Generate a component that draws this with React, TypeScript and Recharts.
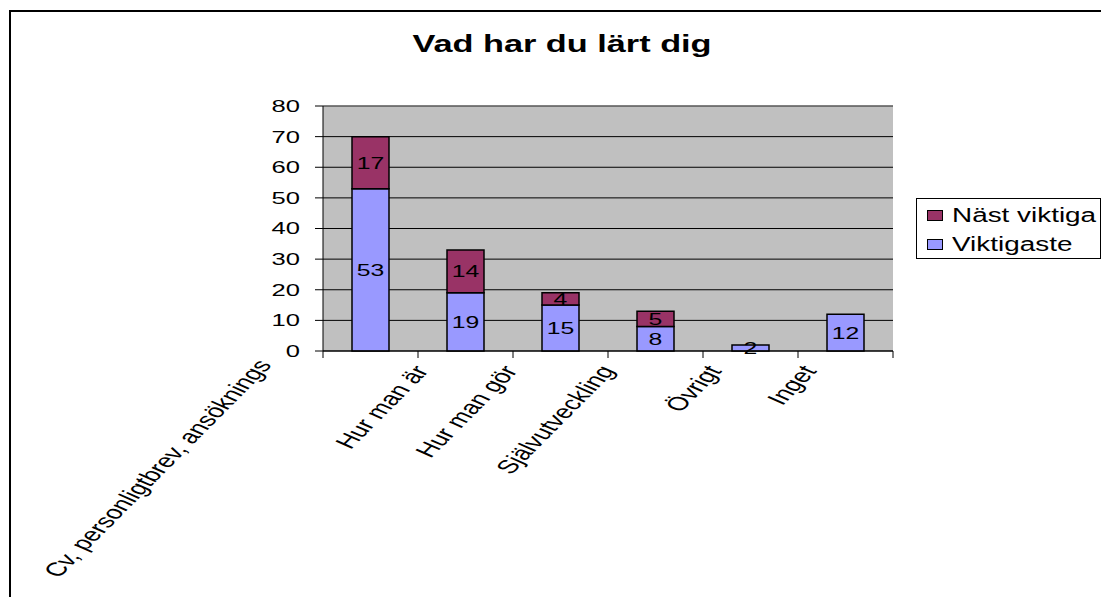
import React from 'react';
import {
  BarChart, Bar, XAxis, YAxis, CartesianGrid, Legend, LabelList, ReferenceLine,
} from 'recharts';

// data
const categories = ['Cv, personligtbrev, ansöknings', 'Hur man är', 'Hur man gör', 'Självutveckling', 'Övrigt', 'Inget'];
const viktigaste = [53, 19, 15, 8, 2, 12];
const nastViktiga = [17, 14, 4, 5, 0, 0];
const yTicks = [0, 10, 20, 30, 40, 50, 60, 70, 80];
const legendOrder = ['Näst viktiga', 'Viktigaste'];

const data = categories.map((name, i) => ({
  name,
  viktigaste: viktigaste[i],
  nastViktiga: nastViktiga[i],
}));

// layout
const W = 1093;
const H = 589;
const MARGIN = { top: 98, right: 208, bottom: 0, left: 255 };
const Y_W = 60;
const PLOT_LEFT = MARGIN.left + Y_W;
const PLOT_BOTTOM = 343;
const BAND = (W - PLOT_LEFT - MARGIN.right) / categories.length;
const FONT = '"Liberation Sans", Arial, sans-serif';
const STRETCH = 1.5; // the picture is squashed wide, text included
// where each rotated label ends, relative to its category centre
const LABEL_DX = [-98, -36, -42, -40, -28, -28];
const LABEL_DY = [14, 20, 20, 20, 20, 20];

const XTick = (props: any) => {
  const { x, payload, index } = props;
  const i = payload?.index ?? index ?? 0;
  const left = x - BAND / 2;
  return (
    <g>
      <line x1={left} y1={PLOT_BOTTOM} x2={left} y2={PLOT_BOTTOM + 7} stroke="#000" />
      {i === categories.length - 1 && (
        <line x1={x + BAND / 2} y1={PLOT_BOTTOM} x2={x + BAND / 2} y2={PLOT_BOTTOM + 7} stroke="#000" />
      )}
      <text
        transform={`translate(${x + LABEL_DX[i]},${PLOT_BOTTOM + LABEL_DY[i]}) scale(${STRETCH},1) rotate(-56.3)`}
        textAnchor="end"
        fontFamily={FONT}
        fontSize={19}
        fill="#000"
      >
        {payload.value}
      </text>
    </g>
  );
};

const YTick = (props: any) => {
  const { x, y, payload } = props;
  return (
    <text
      transform={`translate(${x},${y}) scale(1.55,1)`}
      textAnchor="end"
      dy="0.36em"
      fontFamily={FONT}
      fontSize={16.5}
      fill="#000"
    >
      {payload.value}
    </text>
  );
};

const BarLabel = (props: any) => {
  const { x, y, width, height, value } = props;
  if (!value) return null;
  return (
    <text
      transform={`translate(${x + width / 2},${y + height / 2}) scale(${STRETCH},1)`}
      textAnchor="middle"
      dy="0.36em"
      fontFamily={FONT}
      fontSize={16.5}
      fill="#000"
    >
      {value}
    </text>
  );
};

const LegendBox = (props: any) => {
  const items = [...(props.payload || [])].sort(
    (a: any, b: any) => legendOrder.indexOf(a.value) - legendOrder.indexOf(b.value),
  );
  return (
    <div style={{ border: '1px solid #000', height: 61, boxSizing: 'border-box', paddingTop: 2, background: '#fff' }}>
      {items.map((it: any) => (
        <div key={it.value} style={{ height: 29, display: 'flex', alignItems: 'center', paddingLeft: 10 }}>
          <span style={{ width: 14, height: 9, background: it.color, border: '1px solid #000', display: 'inline-block' }} />
          <span
            style={{
              fontFamily: FONT, fontSize: 19.5, color: '#000', display: 'inline-block',
              transform: 'scaleX(1.43)', transformOrigin: 'left center', marginLeft: 9, whiteSpace: 'nowrap',
            }}
          >
            {it.value}
          </span>
        </div>
      ))}
    </div>
  );
};

export default function App() {
  return (
    <div style={{ position: 'absolute', left: 8, top: 8, width: W, height: H, overflow: 'hidden', background: '#fff' }}>
      {/* outer frame, only its top and left edges are in view */}
      <div
        style={{
          position: 'absolute', left: 1, top: 2, width: W, height: H,
          borderTop: '2px solid #000', borderLeft: '2px solid #000', boxSizing: 'border-box',
        }}
      />
      <svg width={W} height={80} style={{ position: 'absolute', left: 0, top: 0 }}>
        <text
          transform={`translate(554,44) scale(1.46,1)`}
          textAnchor="middle"
          fontFamily={FONT}
          fontWeight="bold"
          fontSize={23.5}
          fill="#000"
        >
          Vad har du lärt dig
        </text>
      </svg>
      <div style={{ position: 'absolute', left: 0, top: 0 }}>
        <BarChart width={W} height={H} data={data} margin={MARGIN} barSize={37}>
          <CartesianGrid vertical={false} stroke="#000" fill="#C0C0C0" fillOpacity={1} />
          <XAxis
            dataKey="name"
            interval={0}
            height={H - PLOT_BOTTOM}
            axisLine={{ stroke: '#000' }}
            tickLine={false}
            tick={<XTick />}
          />
          <YAxis
            width={Y_W}
            domain={[0, 80]}
            ticks={yTicks}
            interval={0}
            tickSize={8}
            tickMargin={15}
            axisLine={{ stroke: '#000' }}
            tickLine={{ stroke: '#000' }}
            tick={<YTick />}
          />
          <YAxis
            yAxisId="right"
            orientation="right"
            width={0}
            domain={[0, 80]}
            tick={false}
            tickLine={false}
            axisLine={{ stroke: '#808080' }}
          />
          <ReferenceLine y={80} stroke="#808080" />
          <Bar dataKey="viktigaste" name="Viktigaste" stackId="a" fill="#9999FF" stroke="#000" strokeWidth={1.5} isAnimationActive={false}>
            <LabelList dataKey="viktigaste" content={<BarLabel />} />
          </Bar>
          <Bar dataKey="nastViktiga" name="Näst viktiga" stackId="a" fill="#993366" stroke="#000" strokeWidth={1.5} isAnimationActive={false}>
            <LabelList dataKey="nastViktiga" content={<BarLabel />} />
          </Bar>
          <Legend
            layout="vertical"
            align="center"
            verticalAlign="middle"
            content={<LegendBox />}
            wrapperStyle={{ left: 908, top: 190, width: 185, height: 61 }}
          />
        </BarChart>
      </div>
    </div>
  );
}
